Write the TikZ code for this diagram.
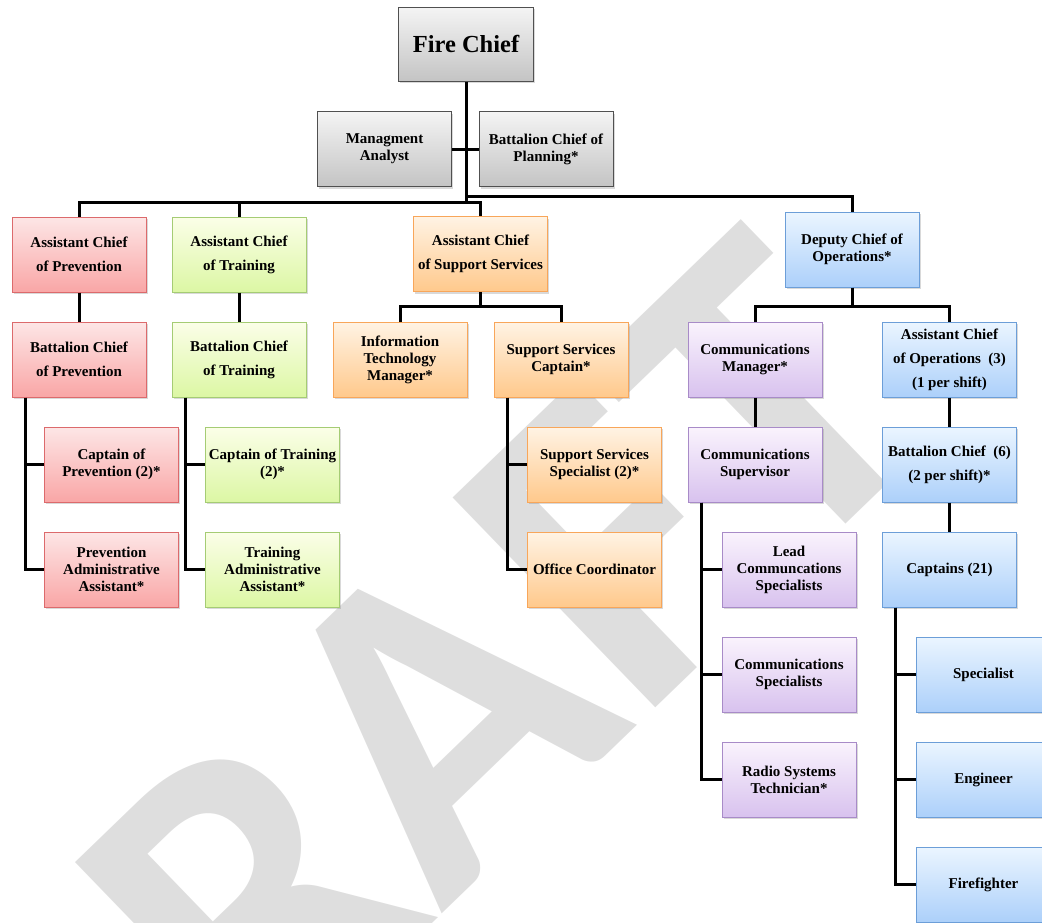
\documentclass[tikz,border=0pt]{standalone}
\usepackage{fontspec}
\setmainfont{Liberation Serif}
\newfontfamily\wmfont{Carlito}
\usepackage{tikz}
\usetikzlibrary{shadows}

\definecolor{wmgray}{HTML}{DEDEDE}
\definecolor{chieftop}{HTML}{F4F4F4}
\definecolor{chiefbot}{HTML}{C4C4C4}
\definecolor{chiefline}{HTML}{505050}
\definecolor{prevtop}{HTML}{FDE6E6}
\definecolor{prevbot}{HTML}{F9A6A6}
\definecolor{prevline}{HTML}{DC6A6C}
\definecolor{traintop}{HTML}{FBFEE8}
\definecolor{trainbot}{HTML}{DCF7A4}
\definecolor{trainline}{HTML}{A5CC74}
\definecolor{supptop}{HTML}{FFF3E4}
\definecolor{suppbot}{HTML}{FFC98C}
\definecolor{suppline}{HTML}{F8A65A}
\definecolor{commtop}{HTML}{FAF3FD}
\definecolor{commbot}{HTML}{D8C2EE}
\definecolor{commline}{HTML}{A88BC8}
\definecolor{opstop}{HTML}{EBF5FF}
\definecolor{opsbot}{HTML}{ACD0FA}
\definecolor{opsline}{HTML}{6C9ED8}

\tikzset{
  box/.style={draw, line width=1pt, minimum width=134pt, minimum height=75pt,
    inner sep=1pt, align=center, font=\fontsize{15}{17}\selectfont\bfseries,
    drop shadow={shadow xshift=1.5pt, shadow yshift=-2pt, opacity=0.3}},
  tallskip/.style={font=\fontsize{15}{24}\selectfont\bfseries},
  chiefbox/.style={box, draw=chiefline, top color=chieftop, bottom color=chiefbot},
  prevbox/.style={box, draw=prevline, top color=prevtop, bottom color=prevbot},
  trainbox/.style={box, draw=trainline, top color=traintop, bottom color=trainbot},
  suppbox/.style={box, draw=suppline, top color=supptop, bottom color=suppbot},
  commbox/.style={box, draw=commline, top color=commtop, bottom color=commbot},
  opsbox/.style={box, draw=opsline, top color=opstop, bottom color=opsbot},
  link/.style={line width=3pt},
}

\begin{document}
\begin{tikzpicture}[x=1pt, y=-1pt]

  \newcommand\SpineX{-54pt}

  \clip (0,0) rectangle (1042,922);

  % watermark
  \node[font=\wmfont\fontsize{450}{450}\selectfont\bfseries, text=wmgray,
    rotate=44, inner sep=0pt] (draft) at (400,752) {DRAFT};

  \node[chiefbox, minimum width=135pt, minimum height=74pt,
    font=\fontsize{24.5}{28}\selectfont\bfseries] (chief) at (466,44) {Fire Chief};
  \node[chiefbox] (analyst) at (384.5,149) {Managment\\Analyst};
  \node[chiefbox] (planning) at (546,149) {Battalion Chief of\\Planning*};

  \node[prevbox, tallskip] (acprev) at (79,254.5) {Assistant Chief\\of Prevention};
  \node[trainbox, tallskip] (actrain) at (239,254.5) {Assistant Chief\\of Training};
  \node[suppbox, tallskip] (acsupp) at (480.5,254) {Assistant Chief\\of Support Services};
  \node[opsbox] (dcops) at (852,249.5) {Deputy Chief of\\Operations*};

  \node[prevbox, tallskip] (bcprev) at (79,359.5) {Battalion Chief\\of Prevention};
  \node[trainbox, tallskip] (bctrain) at (239,359.5) {Battalion Chief\\of Training};
  \node[suppbox] (itman) at (400,359.5) {Information\\Technology\\Manager*};
  \node[suppbox] (sscapt) at (561,359.5) {Support Services\\Captain*};
  \node[commbox] (commgr) at (755,359.5) {Communications\\Manager*};
  \node[opsbox, tallskip] (acops) at (949.5,359.5) {Assistant Chief\\of Operations~~(3)\\(1 per shift)};

  \node[prevbox] (capprev) at (111.5,464.5) {Captain of\\Prevention (2)*};
  \node[trainbox] (captrain) at (272.5,464.5) {Captain of Training\\(2)*};
  \node[suppbox] (ssspec) at (594.5,464.5) {Support Services\\Specialist (2)*};
  \node[commbox] (commsup) at (755,464.5) {Communications\\Supervisor};
  \node[opsbox, tallskip] (bcops) at (949.5,464.5) {Battalion Chief~~(6)\\(2 per shift)*};

  \node[prevbox] (prevadmin) at (111.5,569.5) {Prevention\\Administrative\\Assistant*};
  \node[trainbox] (trainadmin) at (272.5,569.5) {Training\\Administrative\\Assistant*};
  \node[suppbox] (office) at (594.5,569.5) {Office Coordinator};
  \node[commbox] (lead) at (789,569.5) {Lead\\Communcations\\Specialists};
  \node[opsbox] (captains) at (949.5,569.5) {Captains (21)};

  \node[commbox] (commspec) at (789,674.5) {Communications\\Specialists};
  \node[opsbox] (specialist) at (983.5,674.5) {Specialist};
  \node[commbox] (radio) at (789,779.5) {Radio Systems\\Technician*};
  \node[opsbox] (engineer) at (983.5,779.5) {Engineer};
  \node[opsbox] (firefighter) at (983.5,884.5) {Firefighter};

  % trunk and buses
  \coordinate (busL) at (466,202);
  \coordinate (busR) at (466,196);
  \draw[link] (chief.south) -- (busL);
  \draw[link] (analyst.east) -- (planning.west);
  \draw[link] (busL) -| (acprev.north);
  \draw[link] (busL) -| (actrain.north);
  \draw[link] (busL) -| (acsupp.north);
  \draw[link] (busR) -| (dcops.north);

  \draw[link] (acprev) -- (bcprev);
  \draw[link] (actrain) -- (bctrain);
  \draw[link] (acsupp.south) |- ([yshift=15pt]itman.north) -- (itman.north);
  \draw[link] (acsupp.south) |- ([yshift=15pt]sscapt.north) -- (sscapt.north);
  \draw[link] (dcops.south) |- ([yshift=15pt]commgr.north) -- (commgr.north);
  \draw[link] (dcops.south) |- ([yshift=15pt]acops.north) -- (acops.north);
  \draw[link] (commgr) -- (commsup);
  \draw[link] (acops) -- (bcops);
  \draw[link] (bcops) -- (captains);

  % spines
  \draw[link] ([xshift=\SpineX]bcprev.south) |- (capprev.west);
  \draw[link] ([xshift=\SpineX]bcprev.south) |- (prevadmin.west);
  \draw[link] ([xshift=\SpineX]bctrain.south) |- (captrain.west);
  \draw[link] ([xshift=\SpineX]bctrain.south) |- (trainadmin.west);
  \draw[link] ([xshift=\SpineX]sscapt.south) |- (ssspec.west);
  \draw[link] ([xshift=\SpineX]sscapt.south) |- (office.west);
  \draw[link] ([xshift=\SpineX]commsup.south) |- (lead.west);
  \draw[link] ([xshift=\SpineX]commsup.south) |- (commspec.west);
  \draw[link] ([xshift=\SpineX]commsup.south) |- (radio.west);
  \draw[link] ([xshift=\SpineX]captains.south) |- (specialist.west);
  \draw[link] ([xshift=\SpineX]captains.south) |- (engineer.west);
  \draw[link] ([xshift=\SpineX]captains.south) |- (firefighter.west);

\end{tikzpicture}
\end{document}
